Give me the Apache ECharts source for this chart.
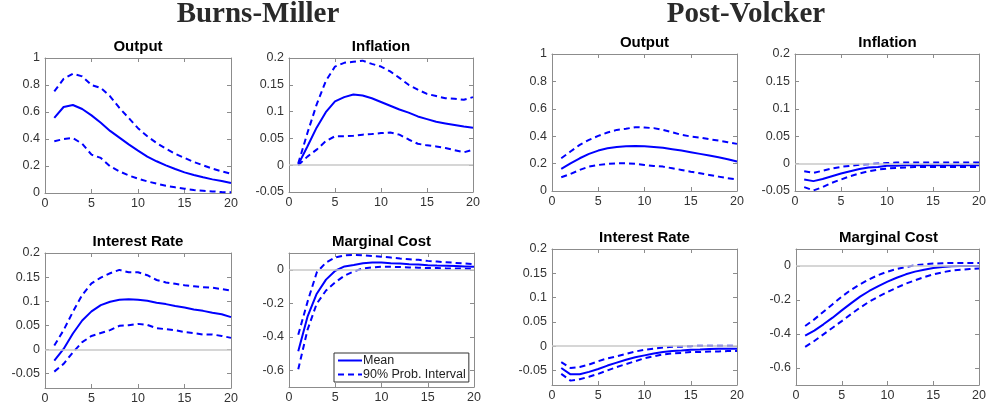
<!DOCTYPE html>
<html>
<head>
<meta charset="utf-8">
<script src="https://cdn.jsdelivr.net/npm/echarts@6/dist/echarts.min.js"></script>
<style>
html, body { margin: 0; padding: 0; background: #fff; }
#chart { width: 989px; height: 408px; }
</style>
</head>
<body>
<div id="chart"></div>
<script>
// horizon (quarters) and tick labels
const quarters = [1,2,3,4,5,6,7,8,9,10,11,12,13,14,15,16,17,18,19,20]
const xTicks = [0,5,10,15,20]
const outputTicks = [0,0.2,0.4,0.6,0.8,1]
const smallTicks = [-0.05,0,0.05,0.1,0.15,0.2]
const costTicks = [-0.6,-0.4,-0.2,0]

// Burns-Miller
const bmOutputMean  = [0.556,0.637,0.652,0.622,0.575,0.52,0.46,0.41,0.36,0.314,0.27,0.235,0.205,0.178,0.153,0.133,0.116,0.101,0.089,0.074]
const bmOutputUpper = [0.753,0.845,0.884,0.864,0.80,0.778,0.716,0.63,0.556,0.48,0.42,0.37,0.328,0.29,0.26,0.23,0.205,0.18,0.16,0.143]
const bmOutputLower = [0.383,0.40,0.407,0.365,0.284,0.26,0.198,0.16,0.13,0.106,0.086,0.069,0.054,0.042,0.032,0.022,0.017,0.012,0.007,0.005]

const bmInflMean  = [0.001,0.035,0.07,0.099,0.119,0.127,0.132,0.130,0.125,0.118,0.111,0.104,0.098,0.091,0.086,0.081,0.078,0.075,0.072,0.070]
const bmInflUpper = [0.003,0.06,0.113,0.157,0.184,0.191,0.193,0.195,0.189,0.184,0.175,0.163,0.150,0.141,0.133,0.129,0.125,0.124,0.122,0.127]
const bmInflLower = [0,0.016,0.029,0.045,0.054,0.054,0.055,0.057,0.058,0.060,0.061,0.057,0.048,0.040,0.037,0.035,0.032,0.028,0.024,0.029]

const bmRateMean  = [-0.023,0.001,0.033,0.060,0.079,0.092,0.099,0.103,0.104,0.103,0.101,0.097,0.094,0.090,0.087,0.083,0.080,0.076,0.073,0.067]
const bmRateUpper = [0.008,0.040,0.078,0.113,0.137,0.149,0.158,0.165,0.160,0.160,0.154,0.144,0.139,0.136,0.133,0.131,0.129,0.128,0.125,0.122]
const bmRateLower = [-0.046,-0.030,-0.006,0.015,0.028,0.034,0.040,0.049,0.050,0.053,0.051,0.044,0.042,0.040,0.036,0.034,0.031,0.031,0.028,0.024]

const bmCostMean  = [-0.486,-0.28,-0.143,-0.059,-0.006,0.020,0.029,0.039,0.043,0.043,0.039,0.037,0.033,0.031,0.027,0.025,0.024,0.022,0.020,0.018]
const bmCostUpper = [-0.388,-0.192,-0.016,0.043,0.073,0.086,0.088,0.086,0.082,0.078,0.073,0.067,0.063,0.059,0.053,0.049,0.045,0.041,0.037,0.033]
const bmCostLower = [-0.594,-0.359,-0.202,-0.124,-0.075,-0.035,-0.010,0.008,0.014,0.018,0.018,0.016,0.014,0.012,0.010,0.010,0.008,0.008,0.006,0.004]

// Post-Volcker
const pvOutputMean  = [0.161,0.202,0.239,0.271,0.295,0.312,0.322,0.327,0.329,0.327,0.322,0.315,0.305,0.295,0.283,0.271,0.259,0.246,0.232,0.215]
const pvOutputUpper = [0.239,0.288,0.337,0.373,0.402,0.427,0.446,0.454,0.466,0.463,0.459,0.446,0.429,0.41,0.398,0.39,0.378,0.368,0.356,0.344]
const pvOutputLower = [0.1,0.124,0.154,0.178,0.19,0.198,0.202,0.202,0.198,0.19,0.183,0.178,0.166,0.154,0.141,0.129,0.117,0.105,0.093,0.085]

const pvInflMean  = [-0.029,-0.032,-0.028,-0.023,-0.018,-0.014,-0.010,-0.007,-0.006,-0.004,-0.004,-0.003,-0.003,-0.003,-0.003,-0.003,-0.003,-0.003,-0.003,-0.003]
const pvInflUpper = [-0.014,-0.017,-0.013,-0.009,-0.006,-0.004,-0.002,-0.001,0,0.001,0.002,0.002,0.002,0.002,0.002,0.002,0.002,0.002,0.002,0.002]
const pvInflLower = [-0.043,-0.049,-0.043,-0.035,-0.029,-0.023,-0.018,-0.014,-0.011,-0.009,-0.008,-0.007,-0.006,-0.006,-0.006,-0.006,-0.006,-0.006,-0.006,-0.006]

const pvRateMean  = [-0.045,-0.058,-0.058,-0.053,-0.047,-0.040,-0.034,-0.028,-0.023,-0.019,-0.015,-0.012,-0.010,-0.009,-0.0075,-0.007,-0.006,-0.0055,-0.0055,-0.0055]
const pvRateUpper = [-0.033,-0.045,-0.043,-0.038,-0.031,-0.025,-0.021,-0.016,-0.011,-0.0075,-0.005,-0.003,-0.0015,-0.001,0,0.001,0.001,0.001,0.001,0.001]
const pvRateLower = [-0.057,-0.071,-0.068,-0.063,-0.057,-0.050,-0.043,-0.037,-0.031,-0.025,-0.021,-0.017,-0.015,-0.014,-0.012,-0.012,-0.011,-0.011,-0.010,-0.010]

const pvCostMean  = [-0.41,-0.38,-0.343,-0.304,-0.261,-0.22,-0.18,-0.147,-0.118,-0.092,-0.069,-0.049,-0.033,-0.022,-0.012,-0.006,-0.002,0,0,0]
const pvCostUpper = [-0.353,-0.314,-0.269,-0.225,-0.180,-0.141,-0.108,-0.078,-0.053,-0.033,-0.018,-0.006,0.004,0.01,0.014,0.016,0.018,0.018,0.018,0.018]
const pvCostLower = [-0.476,-0.441,-0.402,-0.363,-0.324,-0.284,-0.245,-0.210,-0.180,-0.153,-0.127,-0.104,-0.084,-0.065,-0.049,-0.037,-0.027,-0.022,-0.018,-0.014]

// panel layout: box = [left, top, width, height]
const panels = [
    { title: 'Output', box: [45, 58, 186, 135], min: 0, max: 1, ticks: outputTicks, zero: false, mean: bmOutputMean, upper: bmOutputUpper, lower: bmOutputLower },
    { title: 'Inflation', box: [289, 58, 184, 134], min: -0.05, max: 0.2, ticks: smallTicks, zero: true, mean: bmInflMean, upper: bmInflUpper, lower: bmInflLower },
    { title: 'Interest Rate', box: [45, 253, 186, 135], min: -0.08, max: 0.2, ticks: smallTicks, zero: true, mean: bmRateMean, upper: bmRateUpper, lower: bmRateLower },
    { title: 'Marginal Cost', box: [289, 253, 185, 134], min: -0.7, max: 0.1, ticks: costTicks, zero: true, mean: bmCostMean, upper: bmCostUpper, lower: bmCostLower },
    { title: 'Output', box: [552, 54, 185, 137], min: 0, max: 1, ticks: outputTicks, zero: false, mean: pvOutputMean, upper: pvOutputUpper, lower: pvOutputLower },
    { title: 'Inflation', box: [795, 54, 185, 137], min: -0.05, max: 0.2, ticks: smallTicks, zero: true, mean: pvInflMean, upper: pvInflUpper, lower: pvInflLower },
    { title: 'Interest Rate', box: [552, 249, 185, 136], min: -0.08, max: 0.2, ticks: smallTicks, zero: true, mean: pvRateMean, upper: pvRateUpper, lower: pvRateLower },
    { title: 'Marginal Cost', box: [796, 249, 185, 136], min: -0.7, max: 0.1, ticks: costTicks, zero: true, mean: pvCostMean, upper: pvCostUpper, lower: pvCostLower }
]

const blue = '#0000ff'
const boxColor = '#8c8c8c'
const labelFont = 'Liberation Sans'

function pairs(arr) {
    return quarters.map((q, i) => [q, arr[i]])
}

let grids = [], xAxes = [], yAxes = [], series = []
let graphics = [
    { type: 'text', style: { text: 'Burns-Miller', x: 258, y: 15, textAlign: 'center', textVerticalAlign: 'middle', fontFamily: 'Liberation Serif', fontWeight: 'bold', fontSize: 29, fill: '#2a2a2a' } },
    { type: 'text', style: { text: 'Post-Volcker', x: 746, y: 15, textAlign: 'center', textVerticalAlign: 'middle', fontFamily: 'Liberation Serif', fontWeight: 'bold', fontSize: 29, fill: '#2a2a2a' } }
]

panels.forEach((p, k) => {
    let [l, t, w, h] = p.box
    grids.push({ left: l, top: t, width: w, height: h, containLabel: false })

    graphics.push({ type: 'text', style: { text: p.title, x: l + w / 2, y: t - 11, textAlign: 'center', textVerticalAlign: 'middle', fontFamily: labelFont, fontWeight: 'bold', fontSize: 15, fill: '#000' } })

    let tick = { inside: true, length: 4, lineStyle: { color: boxColor } }
    let line = { show: true, onZero: false, lineStyle: { color: boxColor, width: 1 } }

    xAxes.push({
        type: 'value', gridIndex: k, position: 'bottom', min: 0, max: 20,
        axisLine: line,
        axisTick: Object.assign({ customValues: xTicks }, tick),
        axisLabel: { customValues: xTicks, margin: 4, fontFamily: labelFont, fontSize: 12.5, color: '#333' },
        splitLine: { show: false }
    })
    xAxes.push({
        type: 'value', gridIndex: k, position: 'top', min: 0, max: 20,
        axisLine: line,
        axisTick: Object.assign({ customValues: xTicks }, tick),
        axisLabel: { show: false },
        splitLine: { show: false }
    })
    yAxes.push({
        type: 'value', gridIndex: k, position: 'left', min: p.min, max: p.max,
        axisLine: line,
        axisTick: Object.assign({ customValues: p.ticks }, tick),
        axisLabel: { customValues: p.ticks, margin: 5, fontFamily: labelFont, fontSize: 12.5, color: '#333',
            formatter: v => String(v) },
        splitLine: { show: false }
    })
    yAxes.push({
        type: 'value', gridIndex: k, position: 'right', min: p.min, max: p.max,
        axisLine: line,
        axisTick: Object.assign({ customValues: p.ticks }, tick),
        axisLabel: { show: false },
        splitLine: { show: false }
    })

    let base = { type: 'line', xAxisIndex: 2 * k, yAxisIndex: 2 * k, symbol: 'none', silent: true }

    // zero reference line, drawn beneath the curves
    if (p.zero) {
        series.push(Object.assign({}, base, {
            name: 'zero', data: [], z: 1,
            markLine: {
                silent: true, symbol: ['none', 'none'], label: { show: false },
                lineStyle: { color: '#c8c8c8', width: 1.5, type: 'solid' },
                data: [{ yAxis: 0 }]
            }
        }))
    }
    series.push(Object.assign({}, base, {
        name: '90% Prob. Interval', data: pairs(p.lower), z: 2,
        lineStyle: { color: blue, width: 2, type: [6, 4] }, itemStyle: { color: blue }
    }))
    series.push(Object.assign({}, base, {
        name: '90% Prob. Interval', data: pairs(p.upper), z: 2,
        lineStyle: { color: blue, width: 2, type: [6, 4] }, itemStyle: { color: blue }
    }))
    series.push(Object.assign({}, base, {
        name: 'Mean', data: pairs(p.mean), z: 3,
        lineStyle: { color: blue, width: 2, type: 'solid' }, itemStyle: { color: blue }
    }))
})

let myChart = echarts.init(document.getElementById('chart'))
let option = {
    animation: false,
    backgroundColor: '#fff',
    grid: grids,
    xAxis: xAxes,
    yAxis: yAxes,
    graphic: graphics,
    legend: {
        data: ['Mean', '90% Prob. Interval'],
        orient: 'vertical',
        left: 334, top: 353,
        itemWidth: 24, itemHeight: 8, itemGap: 1,
        padding: [1, 3, 1, 3],
        backgroundColor: '#fff',
        borderColor: '#333', borderWidth: 1,
        itemStyle: { opacity: 0 },
        textStyle: { fontFamily: labelFont, fontSize: 12.5, lineHeight: 12, color: '#222', padding: [0, 0, 0, -4] }
    },
    series: series
}
myChart.setOption(option)
</script>
</body>
</html>
